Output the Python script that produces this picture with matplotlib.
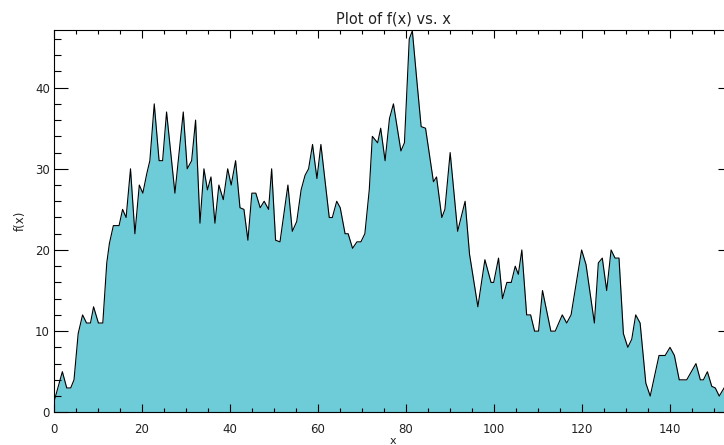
import numpy as np
import matplotlib
matplotlib.use("Agg")
import matplotlib.pyplot as plt
from matplotlib.ticker import MultipleLocator

# vertices of f(x)
x_vals = [0, 1.9, 2.9, 3.8, 4.55, 5.5, 6.5, 7.4, 8.3, 9.0, 10.1, 11.1, 12.0, 12.6, 13.5,
          14.8, 15.6, 16.4, 17.4, 18.4, 19.4, 20.2, 21.1, 21.8, 22.8, 23.9, 24.7, 25.6,
          27.5, 29.4, 30.3, 31.3, 32.2, 33.2, 34.1, 34.9, 35.7, 36.6, 37.5, 38.5, 39.5,
          40.3, 41.3, 42.3, 43.2, 44.1, 45.0, 45.9, 46.9, 47.8, 48.8, 49.5, 50.4, 51.4,
          53.2, 54.2, 55.2, 56.2, 57.1, 57.9, 58.8, 59.8, 60.7, 62.6, 63.3, 64.3, 65.1,
          66.2, 66.9, 67.9, 68.9, 69.8, 70.7, 71.7, 72.4, 73.6, 74.3, 75.3, 76.3, 77.2,
          78.9, 79.7, 80.8, 81.5, 82.5, 83.5, 84.5, 86.3, 87.0, 88.2, 88.9, 90.1, 91.8,
          93.5, 94.5, 96.4, 98.0, 99.4, 100.0, 101.1, 102.0, 103.0, 104.0, 104.9, 105.6,
          106.4, 107.5, 108.4, 109.3, 110.2, 111.1, 113.0, 114.0, 115.6, 116.6, 117.6,
          120.0, 121.0, 122.9, 123.8, 124.7, 125.7, 126.7, 127.6, 128.5, 129.5, 130.5,
          131.4, 132.3, 133.3, 134.6, 135.6, 137.6, 139.0, 140.1, 141.1, 142.2, 143.9,
          146.0, 147.0, 147.7, 148.6, 149.6, 150.4, 151.3, 152.4, 154.2]
f_vals = [1.3, 5, 3, 3, 4, 9.7, 12, 11, 11, 13, 11, 11, 18.4, 20.8, 23,
          23, 25, 24, 30, 22, 28, 27, 29.4, 31, 38, 31, 31, 37,
          27, 37, 30, 31, 36, 23.3, 30, 27.4, 29, 23.3, 28, 26.2, 30,
          28, 31, 25.2, 25, 21.2, 27, 27, 25.2, 26, 25, 30, 21.2, 21,
          28, 22.3, 23.5, 27.4, 29.2, 30, 33, 28.8, 33, 24, 24, 26, 25.2,
          22, 22, 20.2, 21, 21, 22, 27.4, 34, 33.2, 35, 31, 36.2, 38,
          32.2, 33.2, 46, 47, 41, 35.2, 35, 28.4, 29, 24, 25, 32, 22.3,
          26, 19.5, 13, 18.8, 16, 16, 19, 14, 16, 16, 18, 17,
          20, 12, 12, 10, 10, 15, 10, 10, 12, 11, 12,
          20, 18.2, 11, 18.4, 19, 15, 20, 19, 19, 9.7, 8,
          9, 12, 11, 3.6, 2, 7, 7, 8, 7, 4, 4,
          6, 4, 4, 5, 3.2, 3, 2, 3, 4]

plt.rcParams['font.family'] = 'DejaVu Sans'
fig = plt.figure(figsize=(7.24, 4.45), dpi=100)
# plot box runs a little past the right edge, as in the reference
ax = fig.add_axes([54 / 724, 1 - 412.3 / 445, 678 / 724, 382.3 / 445])

ax.fill_between(x_vals, f_vals, 0, color='#6ecbd8', linewidth=0)
ax.plot(x_vals, f_vals, color='black', linewidth=0.8)

ax.set_xlim(0, 154.2)
ax.set_ylim(0, 47.1)
ax.xaxis.set_major_locator(MultipleLocator(20))
ax.xaxis.set_minor_locator(MultipleLocator(5))
ax.yaxis.set_major_locator(MultipleLocator(10))
ax.yaxis.set_minor_locator(MultipleLocator(2))

for s in ax.spines.values():
    s.set_linewidth(0.8)
ax.tick_params(axis='both', which='both', direction='in', top=True, right=True,
               width=0.8, labelsize=8.5, labelcolor='#222222')
ax.tick_params(axis='x', which='major', length=5.5, pad=8)
ax.tick_params(axis='x', which='minor', length=2.8)
ax.tick_params(axis='y', which='major', length=10, pad=3)
ax.tick_params(axis='y', which='minor', length=5)

ax.set_title('Plot of f(x) vs. x', fontsize=10.5, pad=5, color='#222222')
ax.set_xlabel('x', fontsize=8, labelpad=0, color='#222222')
ax.set_ylabel('f(x)', fontsize=8.5, labelpad=6, color='#222222')

fig.savefig('out.png', dpi=100)
